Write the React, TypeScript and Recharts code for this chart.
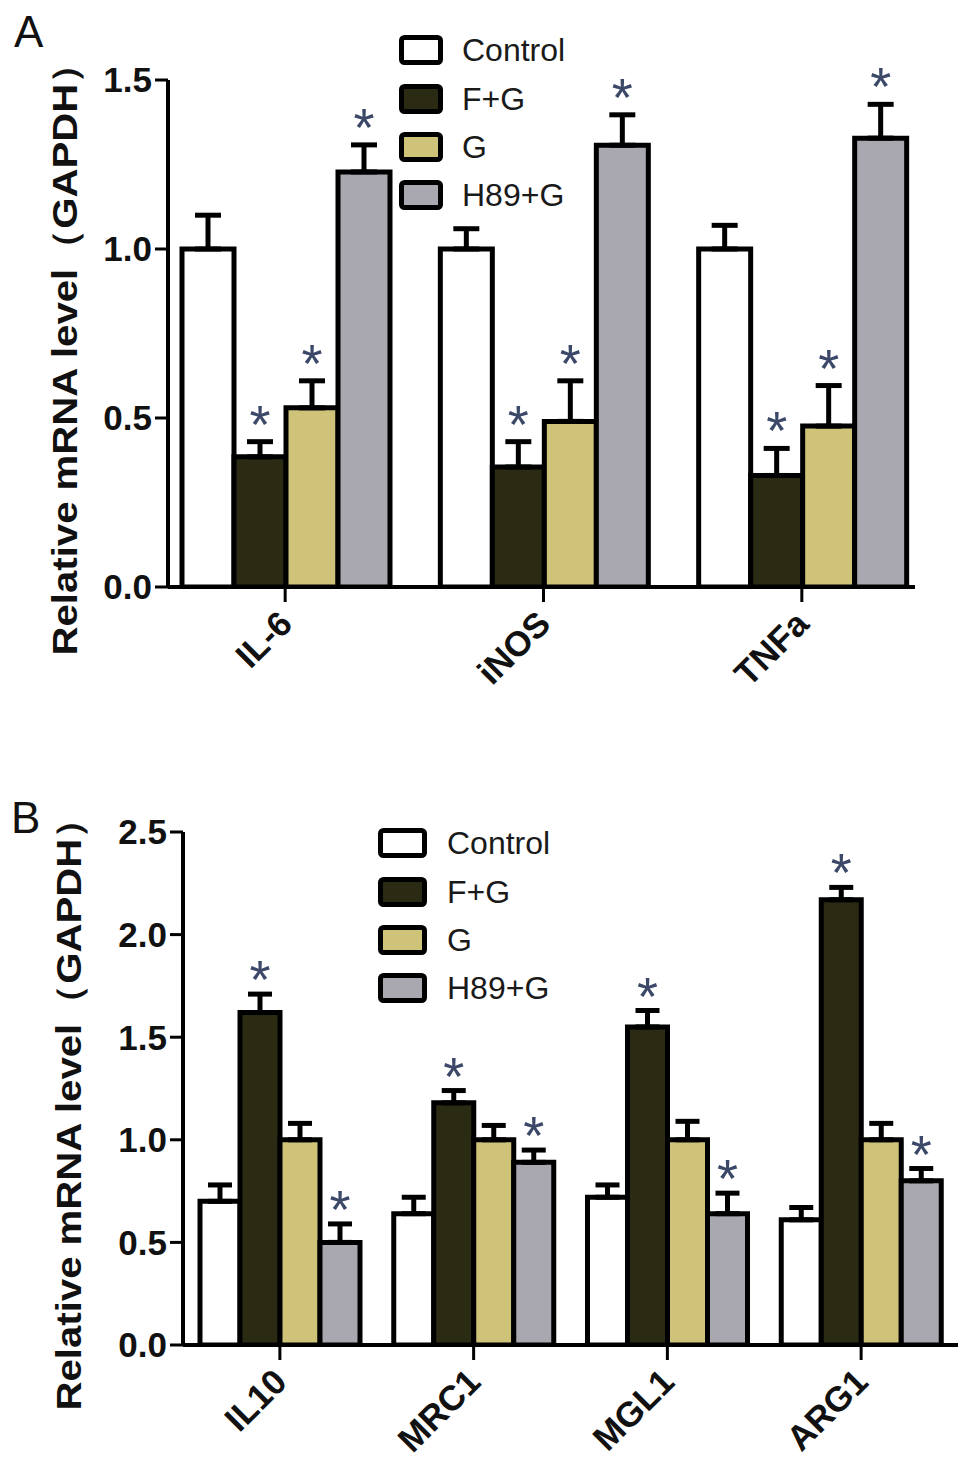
import React from "react"
import {
  BarChart,
  Bar,
  XAxis,
  YAxis,
  ErrorBar,
  LabelList,
  Legend,
  Label,
} from "recharts"

// Panel A: pro-inflammatory markers
const aCategories = ["IL-6", "iNOS", "TNFa"]
const aControl = [1.0, 1.0, 1.0]
const aControlErr = [0.1, 0.06, 0.07]
const aFG = [0.385, 0.355, 0.33]
const aFGErr = [0.045, 0.075, 0.08]
const aG = [0.53, 0.49, 0.476]
const aGErr = [0.08, 0.12, 0.12]
const aH89 = [1.228, 1.307, 1.328]
const aH89Err = [0.08, 0.09, 0.1]
const aTicks = [0, 0.5, 1.0, 1.5]
const aStars = { control: false, fg: true, g: true, h89: true }

// Panel B: anti-inflammatory markers
const bCategories = ["IL10", "MRC1", "MGL1", "ARG1"]
const bControl = [0.7, 0.64, 0.72, 0.61]
const bControlErr = [0.08, 0.08, 0.06, 0.06]
const bFG = [1.62, 1.18, 1.55, 2.17]
const bFGErr = [0.09, 0.06, 0.08, 0.06]
const bG = [1.0, 1.0, 1.0, 1.0]
const bGErr = [0.08, 0.07, 0.09, 0.08]
const bH89 = [0.5, 0.89, 0.64, 0.8]
const bH89Err = [0.09, 0.06, 0.1, 0.06]
const bTicks = [0, 0.5, 1.0, 1.5, 2.0, 2.5]
const bStars = { control: false, fg: true, g: false, h89: true }

const series = [
  { key: "control", name: "Control", fill: "#ffffff" },
  { key: "fg", name: "F+G", fill: "#2b2a12" },
  { key: "g", name: "G", fill: "#cfc279" },
  { key: "h89", name: "H89+G", fill: "#a9a8b1" },
]

const FONT = "'Liberation Sans', Arial, Helvetica, sans-serif"
const Y_LABEL = "Relative mRNA level（GAPDH）"

function buildRows(cats: string[], vals: number[][], errs: number[][]) {
  return cats.map((name, i) => {
    const row: Record<string, any> = { name }
    series.forEach((s, j) => {
      row[s.key] = vals[j][i]
      row[s.key + "Err"] = errs[j][i]
    })
    return row
  })
}

const aRows = buildRows(aCategories, [aControl, aFG, aG, aH89], [aControlErr, aFGErr, aGErr, aH89Err])
const bRows = buildRows(bCategories, [bControl, bFG, bG, bH89], [bControlErr, bFGErr, bGErr, bH89Err])

function CategoryTick(props: any) {
  const { x, y, payload } = props
  const bx = x + 9
  const by = y + 24
  return (
    <text
      x={bx}
      y={by}
      transform={`rotate(-45, ${bx}, ${by})`}
      textAnchor="end"
      fontFamily={FONT}
      fontWeight="bold"
      fontSize={35}
      fill="#111"
    >
      {payload.value}
    </text>
  )
}

function makeLegend(left: number, top: number, boxW: number, gap: number) {
  return function LegendBox({ payload }: any) {
    return (
      <div style={{ position: "absolute", left, top, fontFamily: FONT }}>
        {(payload || []).map((p: any) => (
          <div key={p.value} style={{ display: "flex", alignItems: "center", height: 48.4 }}>
            <svg width={boxW} height={30} style={{ display: "block" }}>
              <rect x={2.5} y={2.5} width={boxW - 5} height={25} rx={3} fill={p.color} stroke="#000" strokeWidth={5} />
            </svg>
            <span style={{ marginLeft: gap, fontSize: 32, color: "#1a1a1a", lineHeight: 1 }}>{p.value}</span>
          </div>
        ))}
      </div>
    )
  }
}

interface PanelProps {
  rows: Record<string, any>[]
  height: number
  max: number
  ticks: number[]
  margin: { top: number; right: number; bottom: number; left: number }
  padding: { left: number; right: number }
  catGap: number
  capHalf: number
  stars: Record<string, boolean>
  starGap: number
  legend: { left: number; top: number; boxW: number; gap: number }
  labelX: number
  letter: string
  letterPos: { left: number; top: number }
}

function Panel(p: PanelProps) {
  const LegendContent = makeLegend(p.legend.left, p.legend.top, p.legend.boxW, p.legend.gap)
  return (
    <div style={{ position: "relative", width: 969, height: p.height }}>
      <div
        style={{
          position: "absolute",
          left: p.letterPos.left,
          top: p.letterPos.top,
          fontFamily: FONT,
          fontSize: 44,
          lineHeight: 1,
          color: "#111",
        }}
      >
        {p.letter}
      </div>
      <BarChart
        width={969}
        height={p.height}
        data={p.rows}
        margin={p.margin}
        barCategoryGap={p.catGap}
        barGap={0}
      >
        <XAxis
          dataKey="name"
          height={100}
          padding={p.padding}
          axisLine={{ stroke: "#000", strokeWidth: 4 }}
          tickLine={{ stroke: "#000", strokeWidth: 3 }}
          tickSize={15}
          tickMargin={0}
          tick={<CategoryTick />}
          interval={0}
        />
        <YAxis
          width={100}
          domain={[0, p.max]}
          ticks={p.ticks}
          allowDataOverflow
          axisLine={{ stroke: "#000", strokeWidth: 4 }}
          tickLine={{ stroke: "#000", strokeWidth: 3 }}
          tickSize={13}
          tickMargin={3}
          tickFormatter={(v: number) => v.toFixed(1)}
          tick={{ fontSize: 35, fontWeight: "bold", fill: "#111", fontFamily: FONT }}
        >
          <Label
            content={(lp: any) => {
              const vb = lp.viewBox || {}
              const cy = vb.y + vb.height / 2 + 16
              return (
                <text
                  x={p.labelX}
                  y={cy}
                  transform={`rotate(-90, ${p.labelX}, ${cy})`}
                  textAnchor="middle"
                  dominantBaseline="central"
                  fontFamily={FONT}
                  fontWeight="bold"
                  fontSize={35}
                  textLength={612}
                  lengthAdjust="spacingAndGlyphs"
                  fill="#111"
                >
                  {Y_LABEL}
                </text>
              )
            }}
          />
        </YAxis>
        <Legend
          layout="vertical"
          align="center"
          verticalAlign="middle"
          content={<LegendContent />}
          wrapperStyle={{ left: 0, top: 0, width: 0, height: 0 }}
        />
        {series.map((s) => (
          <Bar
            key={s.key}
            dataKey={s.key}
            name={s.name}
            fill={s.fill}
            stroke="#000"
            strokeWidth={5}
            isAnimationActive={false}
          >
            <ErrorBar
              dataKey={(d: any) => [0, d[s.key + "Err"]]}
              direction="y"
              width={p.capHalf}
              stroke="#000"
              strokeWidth={5}
              isAnimationActive={false}
            />
            {p.stars[s.key] && (
              <LabelList
                dataKey={s.key}
                content={(lp: any) => {
                  const { x, y, width, height, value, index } = lp
                  if (!value) return null
                  const err = p.rows[index][s.key + "Err"]
                  const pxPerUnit = height / value
                  const cy = y - err * pxPerUnit - p.starGap
                  return (
                    <text
                      x={x + width / 2}
                      y={cy + 29}
                      textAnchor="middle"
                      fontFamily={FONT}
                      fontSize={54}
                      fill="#3b4868"
                    >
                      *
                    </text>
                  )
                }}
              />
            )}
          </Bar>
        ))}
      </BarChart>
    </div>
  )
}

export default function App() {
  return (
    <div style={{ position: "absolute", left: 0, top: 0, width: 969, height: 1473, background: "#fff" }}>
      <Panel
        rows={aRows}
        height={740}
        max={1.5}
        ticks={aTicks}
        margin={{ top: 80, right: 54, bottom: 53, left: 68 }}
        padding={{ left: -12, right: -16 }}
        catGap={26}
        capHalf={13}
        stars={aStars}
        starGap={28}
        legend={{ left: 399, top: 26, boxW: 44, gap: 19 }}
        labelX={64}
        letter="A"
        letterPos={{ left: 14, top: 10 }}
      />
      <Panel
        rows={bRows}
        height={733}
        max={2.5}
        ticks={bTicks}
        margin={{ top: 92, right: 11, bottom: 28, left: 83 }}
        padding={{ left: 0, right: 0 }}
        catGap={17}
        capHalf={12}
        stars={bStars}
        starGap={25}
        legend={{ left: 378, top: 79, boxW: 49, gap: 20 }}
        labelX={68}
        letter="B"
        letterPos={{ left: 11, top: 56 }}
      />
    </div>
  )
}
